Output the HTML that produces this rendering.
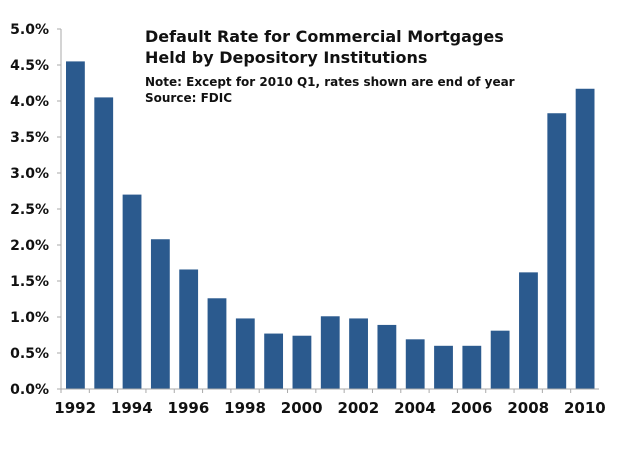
<!DOCTYPE html>
<html><head><meta charset="utf-8"><style>
body{margin:0;background:#fff;}
svg text{font-family:"DejaVu Sans","Liberation Sans",sans-serif;font-weight:bold;fill:#111;}
</style></head><body>
<svg width="639" height="450" xmlns="http://www.w3.org/2000/svg">
<g id="plot"></g>
<text x="145" y="42" font-size="16">Default Rate for Commercial Mortgages</text>
<text x="145" y="63" font-size="16">Held by Depository Institutions</text>
<text x="145" y="86" font-size="12">Note: Except for 2010 Q1, rates shown are end of year</text>
<text x="145" y="102" font-size="12">Source: FDIC</text>
</svg>
<script>
const years=[1992,1993,1994,1995,1996,1997,1998,1999,2000,2001,2002,2003,2004,2005,2006,2007,2008,2009,2010];
const rates=[4.55,4.05,2.70,2.08,1.66,1.26,0.98,0.77,0.74,1.01,0.98,0.89,0.69,0.60,0.60,0.81,1.62,3.83,4.17];
const yTicks=[0,0.5,1,1.5,2,2.5,3,3.5,4,4.5,5];
const x0=61,x1=599,y0=389,yTop=29,yMax=5;
const bw=(x1-x0)/years.length;
const ys=v=>y0-(v/yMax)*(y0-yTop);
const g=document.getElementById('plot');
const NS='http://www.w3.org/2000/svg';
function mk(t,a){const e=document.createElementNS(NS,t);for(const k in a)e.setAttribute(k,a[k]);g.appendChild(e);return e;}
yTicks.forEach(t=>{
  const tk=mk('line',{x1:x0-4,x2:x0,y1:ys(t),y2:ys(t),stroke:'#aaa'});
  
  
  const tx=mk('text',{x:x0-12,y:ys(t)+5,'text-anchor':'end','font-size':'14'});
  tx.textContent=t.toFixed(1)+'%';
  
  
});
years.forEach((yr,i)=>{
  const r=mk('rect',{x:x0+i*bw+5,y:ys(rates[i]),width:bw-9.5,height:y0-ys(rates[i]),fill:'#2b5a8e'});
  
  
  const tk=mk('line',{x1:x0+i*bw,x2:x0+i*bw,y1:y0,y2:y0+4,stroke:'#aaa'});
  
  
  if(i%2===0){
    const tx=mk('text',{x:x0+i*bw+bw/2,y:y0+24,'text-anchor':'middle','font-size':'15'});
    tx.textContent=yr;
    
    
  }
});
const ya=mk('line',{x1:x0,x2:x0,y1:yTop,y2:y0,stroke:'#aaa'});


const xa=mk('line',{x1:x0,x2:x1,y1:y0,y2:y0,stroke:'#aaa'});


</script>
</body></html>
